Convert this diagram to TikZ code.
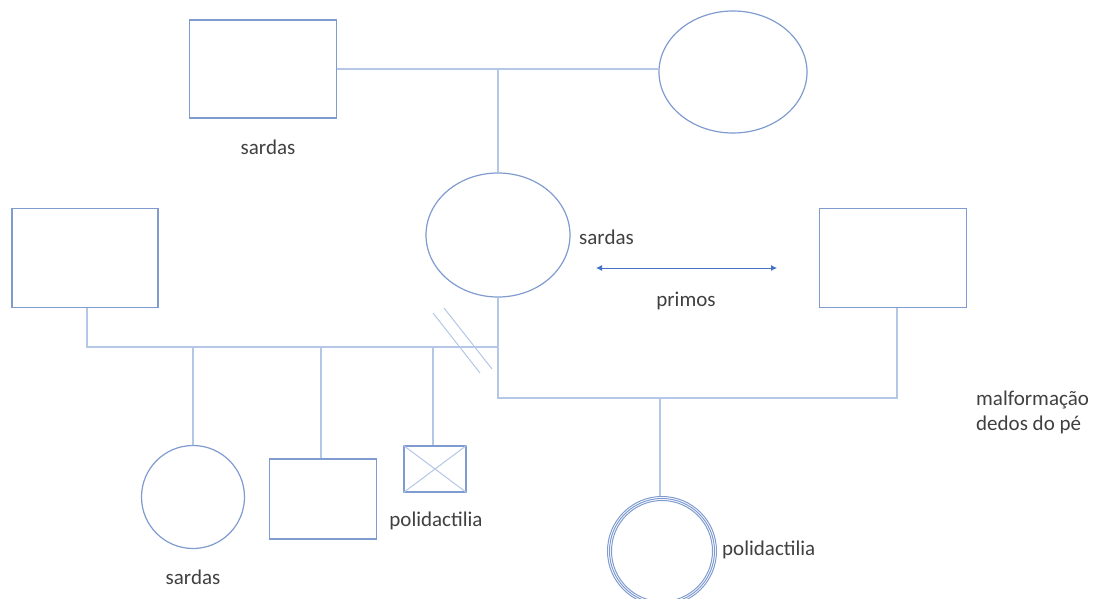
\documentclass[tikz,border=0pt]{standalone}
\usepackage{fontspec}
\setmainfont{Carlito}
\usetikzlibrary{arrows.meta,shapes.geometric}
\definecolor{shp}{HTML}{7F9BD0}
\definecolor{lnk}{HTML}{B4C7E7}
\definecolor{arr}{HTML}{4472C4}
\definecolor{txt}{HTML}{404040}
\begin{document}
\begin{tikzpicture}[x=1pt,y=-1pt,
  link/.style={draw=lnk,line width=1.2pt},
  lbl/.style={text=txt,font=\fontsize{21}{25}\selectfont,inner sep=0pt}]
\useasboundingbox (0,0) rectangle (1101,598);
% shapes
\node[draw=shp,line width=1.2pt,minimum width=147pt,minimum height=98pt,inner sep=0pt] (gf) at (263,69) {};
\node[draw=shp,line width=1.2pt,ellipse,minimum width=148pt,minimum height=122pt,inner sep=0pt] (gm) at (733,72) {};
\node[draw=shp,line width=1.2pt,ellipse,minimum width=144pt,minimum height=124pt,inner sep=0pt] (mo) at (498,235) {};
\node[draw=shp,line width=1.2pt,minimum width=146pt,minimum height=99pt,inner sep=0pt] (fa) at (85,258) {};
\node[draw=shp,line width=1.2pt,minimum width=147pt,minimum height=99pt,inner sep=0pt] (hu) at (893,258) {};
\node[draw=shp,line width=1.2pt,circle,minimum size=103pt,inner sep=0pt] (c1) at (193,497) {};
\node[draw=shp,line width=1.2pt,minimum width=107pt,minimum height=80pt,inner sep=0pt] (c2) at (323,499) {};
\node[draw=shp,line width=1.2pt,minimum width=62pt,minimum height=46pt,inner sep=0pt] (c3) at (435,469) {};
\draw[lnk,line width=1pt] (c3.north west) -- (c3.south east) (c3.north east) -- (c3.south west);
\node[circle,minimum size=110pt,inner sep=0pt] (c4) at (662,551) {};
\foreach \r in {54.5,52.5,50.5}
  \draw[shp,line width=1pt] (c4.center) circle (\r);
% coordinates
\coordinate (gmid) at (498,69);
\coordinate (lj) at (87,347);
\coordinate (mj) at (498,347);
\coordinate (rj1) at (498,398);
\coordinate (rj2) at (897,398);
\coordinate (k1) at (193,347);
\coordinate (k2) at (321,347);
\coordinate (k3) at (433,347);
\coordinate (k4) at (660,398);
% links
\draw[link] (gf.east) -- (gf.east -| gm.west);
\draw[link] (gmid) -- (mo.north);
\draw[link] (fa.south -| lj) -- (lj) -- (mj);
\draw[link] (mo.south) -- (rj1) -- (rj2) -- (hu.south -| rj2);
\draw[link] (k1) -- (c1.north);
\draw[link] (k2) -- (c2.north -| k2);
\draw[link] (k3) -- (c3.north -| k3);
\draw[link] (k4) -- (660,496);
% divorce slashes
\coordinate (s1a) at (433,313); \coordinate (s1b) at (480,373);
\coordinate (s2a) at (444,308); \coordinate (s2b) at (492,369);
\draw[link,line width=1pt] (s1a) -- (s1b) (s2a) -- (s2b);
% cousins arrow
\coordinate (pa) at (596,268); \coordinate (pb) at (777,268);
\draw[arr,line width=0.8pt,{Latex[length=6pt,width=6pt]}-{Latex[length=6pt,width=6pt]}] (pa) -- (pb);
% labels
\node[lbl] (l1) at (268,147) {sardas};
\node[lbl,anchor=west] (l2) at (579,237) {sardas};
\node[lbl] (l3) at (686,301) {primos};
\node[lbl] (l4) at (193,577) {sardas};
\node[lbl] (l5) at (436,521) {polidactilia};
\node[lbl,anchor=west] (l6) at (722,550) {polidactilia};
\node[lbl,anchor=west,align=left] (l7) at (976,412) {malformação\\dedos do pé};
\end{tikzpicture}
\end{document}
